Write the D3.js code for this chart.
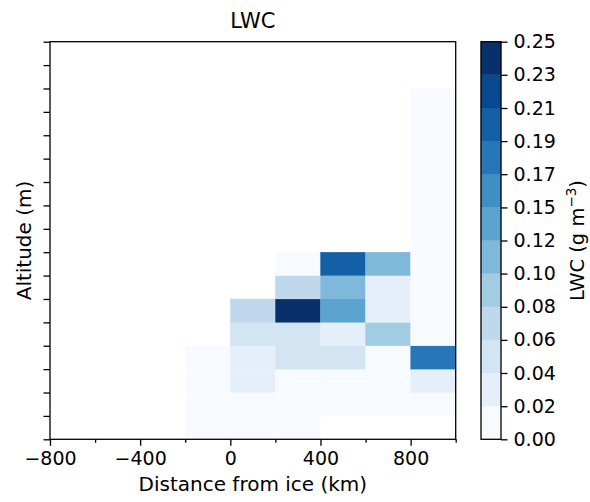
<!DOCTYPE html>
<html>
<head>
<meta charset="utf-8">
<script src="https://cdn.jsdelivr.net/npm/d3@7"></script>
<style>
  html, body { margin: 0; padding: 0; background: #fff; }
  text { font-family: "DejaVu Sans", sans-serif; fill: #000; }
</style>
</head>
<body>
<div id="vis"></div>
<script>
// distance bins (left edge, km), width 200 km
const distance = [-200, 0, 200, 400, 600, 800];
const binWidth = 200;
// altitude rows (bottom edge), 17 rows, unlabeled ticks
const altitude = [0, 100, 200, 300, 400, 500, 600, 700, 800, 900, 1000, 1100, 1200, 1300, 1400, 1500, 1600];
const rowHeight = 100;
// LWC (g m^-3), one row per altitude, columns follow distance; null = no data
const lwc = [
  [0.01, 0.01, 0.01, null, null, null],
  [0.01, 0.01, 0.01, 0.01, 0.01, 0.01],
  [0.01, 0.03, 0.01, 0.01, 0.01, 0.03],
  [0.01, 0.03, 0.05, 0.05, 0.01, 0.18],
  [null, 0.05, 0.05, 0.03, 0.09, 0.01],
  [null, 0.07, 0.24, 0.135, 0.03, 0.01],
  [null, null, 0.07, 0.115, 0.03, 0.01],
  [null, null, 0.01, 0.20, 0.115, 0.01],
  [null, null, null, null, null, 0.01],
  [null, null, null, null, null, 0.01],
  [null, null, null, null, null, 0.01],
  [null, null, null, null, null, 0.01],
  [null, null, null, null, null, 0.01],
  [null, null, null, null, null, 0.01],
  [null, null, null, null, null, 0.01],
  [null, null, null, null, null, null],
  [null, null, null, null, null, null]
];
const xTicks = [-800, -400, 0, 400, 800];
const xMinorTicks = [-600, -200, 200, 600, 1000];
const levels = [0, 0.0208, 0.0417, 0.0625, 0.0833, 0.1042, 0.125, 0.1458, 0.1667, 0.1875, 0.2083, 0.2292, 0.25];
const levelLabels = ["0.00", "0.02", "0.04", "0.06", "0.08", "0.10", "0.12", "0.15", "0.17", "0.19", "0.21", "0.23", "0.25"];
const bluesStops = ["#f7fbff", "#deebf7", "#c6dbef", "#9ecae1", "#6baed6", "#4292c6", "#2171b5", "#08519c", "#08306b"];

const width = 590, height = 502;
const plot = { left: 50, right: 455.7, top: 41.7, bottom: 439.3 };
const cbar = { left: 481, right: 501 };

const svg = d3.select("#vis").append("svg").attr("width", width).attr("height", height);

const x = d3.scaleLinear().domain([-800, 1000]).range([plot.left, plot.right]);
const y = d3.scaleLinear().domain([0, 1700]).range([plot.bottom, plot.top]);

const blues = d3.piecewise(d3.interpolateRgb, bluesStops);
const nBins = levels.length - 1;
const binColors = d3.range(nBins).map(i => blues(i / (nBins - 1)));
const color = d3.scaleThreshold().domain(levels.slice(1, -1)).range(binColors);

// cells
const cells = [];
lwc.forEach((row, r) => row.forEach((v, c) => {
  if (v != null) cells.push({ x0: distance[c], y0: altitude[r], v });
}));
svg.append("g").selectAll("rect").data(cells).join("rect")
  .attr("x", d => x(d.x0))
  .attr("y", d => y(d.y0 + rowHeight))
  .attr("width", d => x(d.x0 + binWidth) - x(d.x0))
  .attr("height", d => y(d.y0) - y(d.y0 + rowHeight))
  .attr("fill", d => color(d.v))
  .attr("stroke", d => color(d.v)).attr("stroke-width", 0.3);

// axes
const xAxis = svg.append("g").attr("transform", `translate(0,${plot.bottom})`)
  .call(d3.axisBottom(x).tickValues(xTicks).tickSize(6.5).tickPadding(6)
    .tickFormat(d => d < 0 ? "\u2212" + Math.abs(d) : d));
const xMinor = svg.append("g").attr("transform", `translate(0,${plot.bottom})`)
  .call(d3.axisBottom(x).tickValues(xMinorTicks).tickSize(3.5).tickFormat(""));
const yAxis = svg.append("g").attr("transform", `translate(${plot.left},0)`)
  .call(d3.axisLeft(y).tickValues(d3.range(0, 1701, 100)).tickSize(6.5).tickFormat(""));
[xAxis, xMinor, yAxis].forEach(g => {
  g.select(".domain").remove();
  g.selectAll(".tick line").attr("stroke", "#000").attr("stroke-width", 1.3);
  g.selectAll(".tick text").attr("font-size", 19).attr("font-family", "DejaVu Sans");
});

svg.append("rect").attr("x", plot.left).attr("y", plot.top)
  .attr("width", plot.right - plot.left).attr("height", plot.bottom - plot.top)
  .attr("fill", "none").attr("stroke", "#000").attr("stroke-width", 1.3);

// labels
svg.append("text").attr("x", (plot.left + plot.right) / 2).attr("y", 28)
  .attr("text-anchor", "middle").attr("font-size", 21).text("LWC");
svg.append("text").attr("x", (plot.left + plot.right) / 2).attr("y", 491)
  .attr("text-anchor", "middle").attr("font-size", 20).text("Distance from ice (km)");
svg.append("text").attr("transform", `translate(31,${(plot.top + plot.bottom) / 2}) rotate(-90)`)
  .attr("text-anchor", "middle").attr("font-size", 20).text("Altitude (m)");

// colorbar
const cy = d3.scaleLinear().domain([0, 0.25]).range([plot.bottom, plot.top]);
svg.append("g").selectAll("rect").data(d3.range(nBins)).join("rect")
  .attr("x", cbar.left).attr("width", cbar.right - cbar.left)
  .attr("y", i => cy(levels[i + 1])).attr("height", i => cy(levels[i]) - cy(levels[i + 1]))
  .attr("fill", i => binColors[i]).attr("stroke", i => binColors[i]).attr("stroke-width", 0.3);
const cAxis = svg.append("g").attr("transform", `translate(${cbar.right},0)`)
  .call(d3.axisRight(cy).tickValues(levels).tickSize(6.5).tickPadding(6)
    .tickFormat((d, i) => levelLabels[i]));
cAxis.select(".domain").remove();
cAxis.selectAll(".tick line").attr("stroke", "#000").attr("stroke-width", 1.3);
cAxis.selectAll(".tick text").attr("font-size", 19).attr("font-family", "DejaVu Sans");
svg.append("rect").attr("x", cbar.left).attr("y", plot.top)
  .attr("width", cbar.right - cbar.left).attr("height", plot.bottom - plot.top)
  .attr("fill", "none").attr("stroke", "#000").attr("stroke-width", 1.3);

const cl = svg.append("text").attr("transform", `translate(583.5,${(plot.top + plot.bottom) / 2}) rotate(-90)`)
  .attr("text-anchor", "middle").attr("font-size", 19.5);
cl.append("tspan").text("LWC (g m");
cl.append("tspan").attr("dy", -8).attr("font-size", 13.5).text("\u22123");
cl.append("tspan").attr("dy", 8).text(")");
</script>
</body>
</html>
